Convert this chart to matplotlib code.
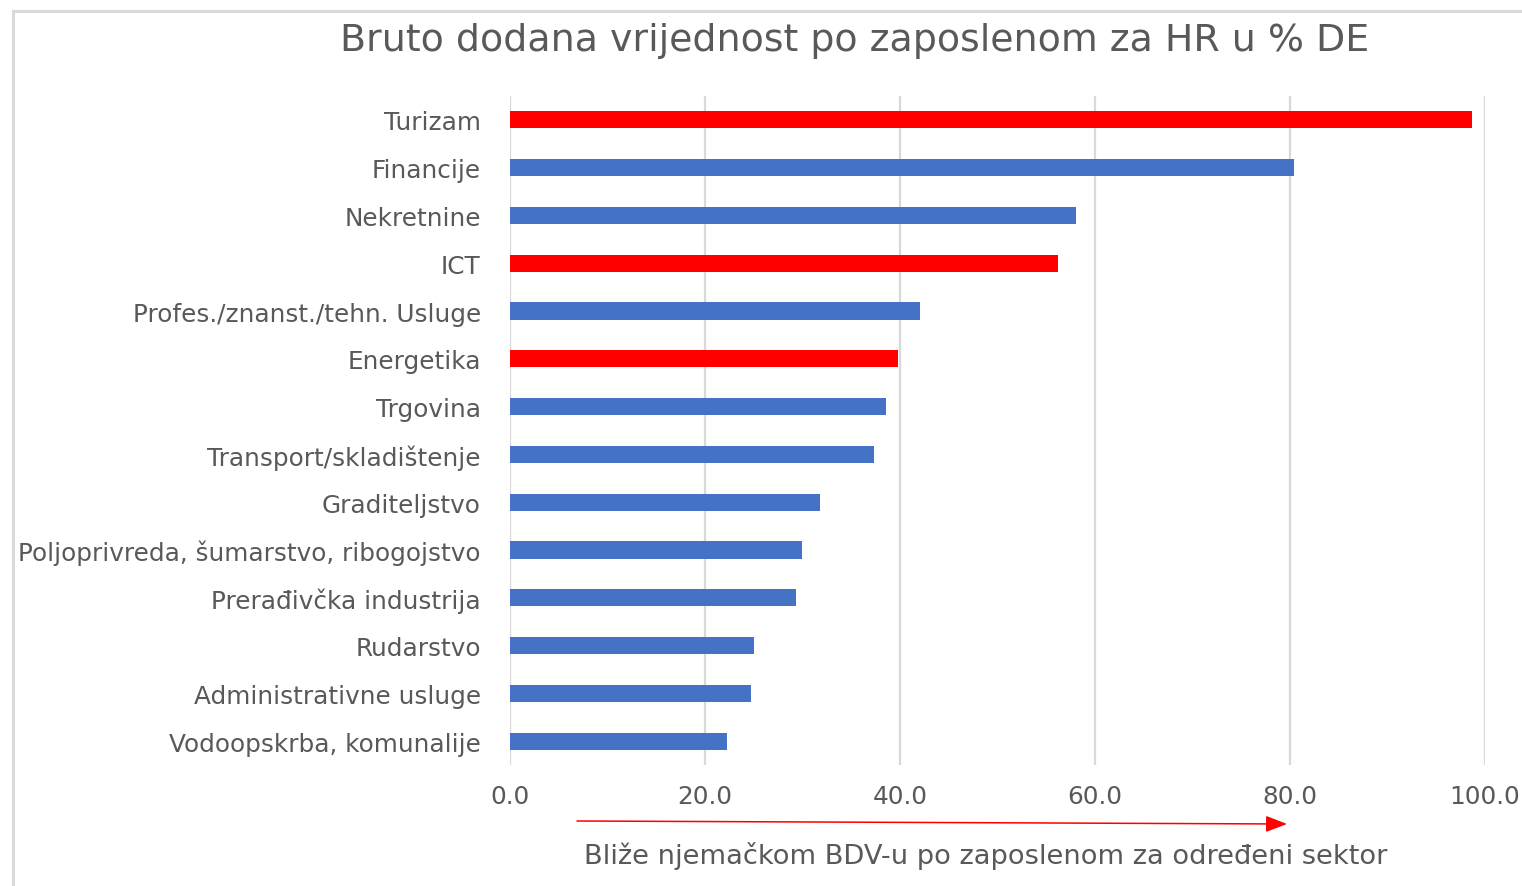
import matplotlib
matplotlib.use("Agg")
import matplotlib.pyplot as plt
from matplotlib.patches import Rectangle

categories = ["Turizam", "Financije", "Nekretnine", "ICT",
              "Profes./znanst./tehn. Usluge", "Energetika", "Trgovina",
              "Transport/skladištenje", "Graditeljstvo",
              "Poljoprivreda, šumarstvo, ribogojstvo",
              "Prerađivčka industrija", "Rudarstvo",
              "Administrativne usluge", "Vodoopskrba, komunalije"]
values = [98.7, 80.4, 58.1, 56.2, 42.0, 39.8, 38.6, 37.3, 31.8, 29.9,
          29.3, 25.0, 24.7, 22.3]
highlight = ["Turizam", "ICT", "Energetika"]
xticks = [0, 20, 40, 60, 80, 100]

BLUE = "#4472C4"
RED = "#FF0000"
TXT = "#595959"
GRID = "#D9D9D9"

plt.rcParams['font.family'] = ['DejaVu Sans']

fig = plt.figure(figsize=(15.22, 8.87), dpi=100)
W, H = 1522, 887

# outer chart border
fig.patches.append(Rectangle((12.5 / W, -0.1), 1.2, 1 - 11.5 / H + 0.1,
                             transform=fig.transFigure, fill=False,
                             edgecolor=GRID, linewidth=2.2, zorder=0))

ax = fig.add_axes([510 / W, 1 - 766 / H, (1485 - 510) / W, (766 - 97) / H])
colors = [RED if c in highlight else BLUE for c in categories]
ypos = list(range(len(categories)))
ax.barh(ypos, values, height=0.36, color=colors, zorder=3)
ax.set_ylim(len(categories) - 0.5, -0.5)
ax.set_xlim(0, 100)
ax.set_xticks(xticks)
ax.set_xticklabels([f"{v:.1f}" for v in xticks])
ax.set_yticks(ypos)
ax.set_yticklabels(categories)
ax.grid(axis='x', color=GRID, linewidth=1.6, zorder=0)
ax.set_axisbelow(True)
for s in ax.spines.values():
    s.set_visible(False)
ax.tick_params(axis='both', length=0, labelsize=17.8, labelcolor=TXT)
ax.tick_params(axis='x', pad=14)
ax.tick_params(axis='y', pad=21)

fig.text(855 / W, 1 - 41 / H, "Bruto dodana vrijednost po zaposlenom za HR u % DE",
         ha='center', va='center', fontsize=27.3, color=TXT)

ax.annotate("", xy=(1287 / W, 1 - 825 / H), xytext=(577 / W, 1 - 822 / H),
            xycoords='figure fraction', textcoords='figure fraction',
            arrowprops=dict(arrowstyle='-|>,head_length=1.3,head_width=0.5',
                            color=RED, linewidth=1.1, shrinkA=0, shrinkB=0))

fig.text(986 / W, 1 - 856 / H,
         "Bliže njemačkom BDV-u po zaposlenom za određeni sektor",
         ha='center', va='center', fontsize=19.6, color=TXT)

fig.savefig("out.png", dpi=100)
